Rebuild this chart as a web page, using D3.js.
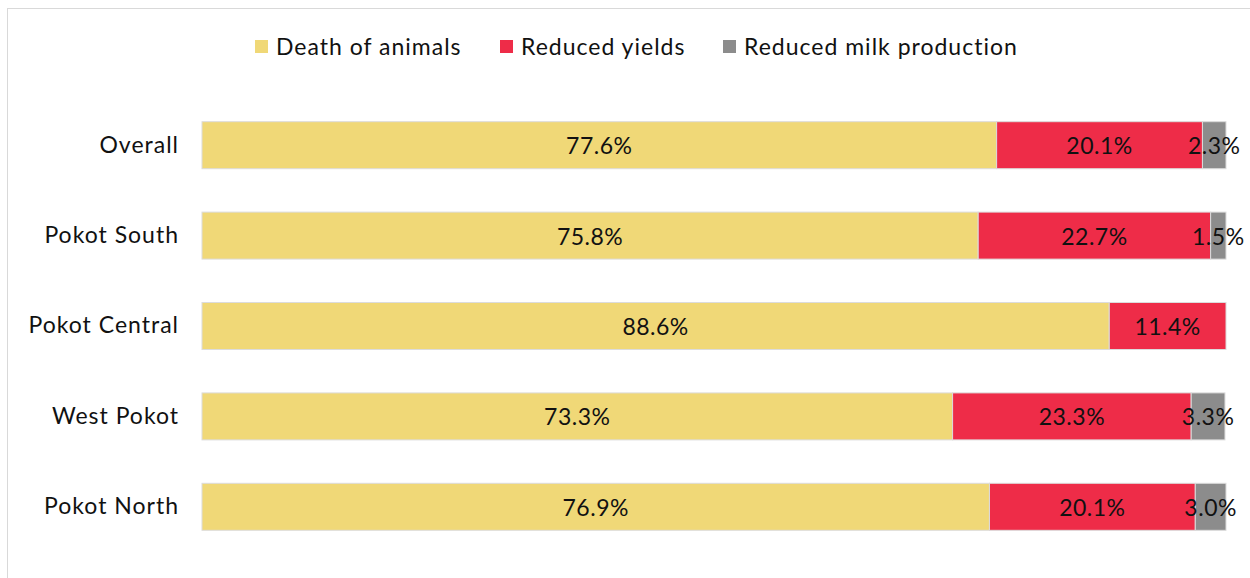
<!DOCTYPE html>
<html><head><meta charset="utf-8">
<script src="https://cdn.jsdelivr.net/npm/d3@7"></script>
<style>html,body{margin:0;padding:0;background:#fff;}svg{display:block;font-family:"Lato","Open Sans",sans-serif;}</style>
</head><body>
<svg id="chart" width="1250" height="578"></svg>
<script>
const categories = ["Overall","Pokot South","Pokot Central","West Pokot","Pokot North"];
const seriesNames = ["Death of animals","Reduced yields","Reduced milk production"];
const deathOfAnimals = [77.6, 75.8, 88.6, 73.3, 76.9];
const reducedYields = [20.1, 22.7, 11.4, 23.3, 20.1];
const reducedMilk = [2.3, 1.5, 0, 3.3, 3.0];
const colors = ["#F0D877","#EE2C48","#8C8C8C"];

const svg = d3.select("#chart");
svg.append("rect").attr("x",7.5).attr("y",8.5).attr("width",1300).attr("height",700)
  .attr("fill","none").attr("stroke","#d9d9d9");

const rows = categories.map((c,i)=>({cat:c, vals:[deathOfAnimals[i], reducedYields[i], reducedMilk[i]]}));
const x = d3.scaleLinear().domain([0,100]).range([202,1226]);
const y = d3.scaleBand().domain(categories).range([100,552]).paddingInner(0.48).paddingOuter(0.24);

const stackData = rows.map(r=>{const o={cat:r.cat}; seriesNames.forEach((s,k)=>o[s]=r.vals[k]); return o;});
const stack = d3.stack().keys(seriesNames)(stackData);

stack.forEach((layer,k)=>{
  const g = svg.append("g");
  layer.forEach(d=>{
    const v = d[1]-d[0];
    if (v<=0) return;
    g.append("rect").attr("x",x(d[0])).attr("y",y(d.data.cat))
      .attr("width",x(d[1])-x(d[0])).attr("height",y.bandwidth())
      .attr("fill",colors[k]).attr("stroke","#dcdcdc").attr("stroke-width",1);
  });
});
stack.forEach((layer,k)=>{
  layer.forEach(d=>{
    const v = d[1]-d[0];
    if (v<=0) return;
    svg.append("text").attr("x",(x(d[0])+x(d[1]))/2).attr("y",y(d.data.cat)+y.bandwidth()/2)
      .attr("text-anchor","middle").attr("dominant-baseline","central")
      .attr("font-size",23).attr("letter-spacing","0.5px").attr("fill","#111").text(d3.format(".1f")(v)+"%");
  });
});

const yAxis = d3.axisLeft(y).tickSize(0).tickPadding(23);
const ga = svg.append("g").attr("transform","translate(202,0)").call(yAxis);
ga.select(".domain").remove();
ga.selectAll("text").attr("font-size",23).attr("letter-spacing","1px").attr("fill","#111").attr("font-family","Lato, 'Open Sans', sans-serif");

const legendX = [255, 500, 723];
seriesNames.forEach((s,k)=>{
  svg.append("rect").attr("x",legendX[k]).attr("y",40).attr("width",13).attr("height",13).attr("fill",colors[k]);
  svg.append("text").attr("x",legendX[k]+21).attr("y",46).attr("dominant-baseline","central")
    .attr("font-size",23).attr("letter-spacing","1px").attr("fill","#111").text(s);
});
</script>
</body></html>
